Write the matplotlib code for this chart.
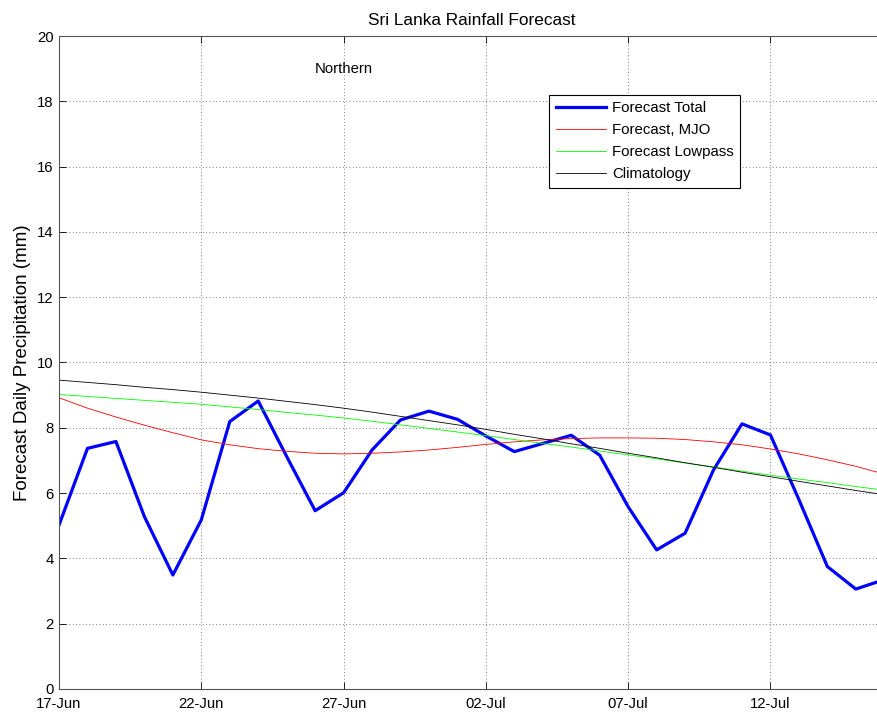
import numpy as np
import pandas as pd
import matplotlib
matplotlib.use("Agg")
import matplotlib.pyplot as plt
import matplotlib.dates as mdates

plt.rcParams['font.family'] = ['Liberation Sans', 'DejaVu Sans']

# daily forecast, 17-Jun .. 16-Jul
dates = pd.date_range("2014-06-17", periods=30, freq="D")

forecast_total = [5.02, 7.37, 7.58, 5.28, 3.49, 5.18, 8.19, 8.82, 7.12, 5.46,
                  6.01, 7.32, 8.24, 8.51, 8.26, 7.75, 7.27, 7.52, 7.77, 7.16,
                  5.58, 4.26, 4.77, 6.71, 8.12, 7.78, 5.80, 3.75, 3.06, 3.35]

forecast_mjo = [8.92, 8.60, 8.33, 8.08, 7.85, 7.63, 7.48, 7.36, 7.28, 7.22,
                7.20, 7.22, 7.26, 7.32, 7.40, 7.49, 7.57, 7.63, 7.67, 7.69,
                7.69, 7.68, 7.64, 7.57, 7.48, 7.35, 7.20, 7.02, 6.82, 6.58]

forecast_lowpass = [9.02, 8.96, 8.90, 8.84, 8.78, 8.72, 8.64, 8.56, 8.47, 8.39,
                    8.30, 8.20, 8.09, 7.98, 7.87, 7.76, 7.64, 7.52, 7.41, 7.29,
                    7.17, 7.05, 6.92, 6.80, 6.67, 6.55, 6.43, 6.32, 6.20, 6.09]

climatology = [9.46, 9.39, 9.32, 9.24, 9.17, 9.09, 9.00, 8.91, 8.81, 8.71,
               8.60, 8.48, 8.35, 8.22, 8.09, 7.95, 7.80, 7.66, 7.51, 7.37,
               7.22, 7.08, 6.93, 6.79, 6.64, 6.50, 6.36, 6.22, 6.08, 5.95]

region = "Northern"

fig = plt.figure(figsize=(8.77, 7.13), dpi=100)
ax = fig.add_axes([0.0673, 0.0337, 0.941, 0.9158])

ax.plot(dates, forecast_total, color='#0000ff', lw=2.3, label='Forecast Total')
ax.plot(dates, forecast_mjo, color='#ff0000', lw=0.6, label='Forecast, MJO')
ax.plot(dates, forecast_lowpass, color='#00ff00', lw=0.6, label='Forecast Lowpass')
ax.plot(dates, climatology, color='black', lw=0.6, label='Climatology')

ax.set_xlim(dates[0], dates[-1])
ax.set_ylim(0, 20)
ax.set_yticks(np.arange(0, 21, 2))
ax.xaxis.set_major_locator(mdates.DayLocator(bymonthday=[2, 7, 12, 17, 22, 27]))
ax.xaxis.set_major_formatter(mdates.DateFormatter('%d-%b'))

ax.grid(True, color='#555555', linestyle=(0, (1, 3)), linewidth=0.6)
ax.tick_params(direction='in', top=True, right=True, labelsize=10.7, length=5,
               width=0.6, pad=4)
ax.tick_params(axis='x', pad=6)
for s in ax.spines.values():
    s.set_linewidth(0.8)
    s.set_color('#555555')

ax.set_title('Sri Lanka Rainfall Forecast', fontsize=12.4, pad=8)
ax.set_ylabel('Forecast Daily Precipitation (mm)', fontsize=13.5, labelpad=4)
ax.text(dates[10], 19.0, region, ha='center', va='center', fontsize=10.7)

leg = ax.legend(loc='upper left', bbox_to_anchor=(0.594, 0.91), borderaxespad=0,
                fancybox=False, edgecolor='black', framealpha=1, fontsize=10.8,
                handlelength=3.35, borderpad=0.42, labelspacing=0.54,
                handletextpad=0.4)
leg.get_frame().set_linewidth(0.8)

fig.savefig('out.png', dpi=100)
